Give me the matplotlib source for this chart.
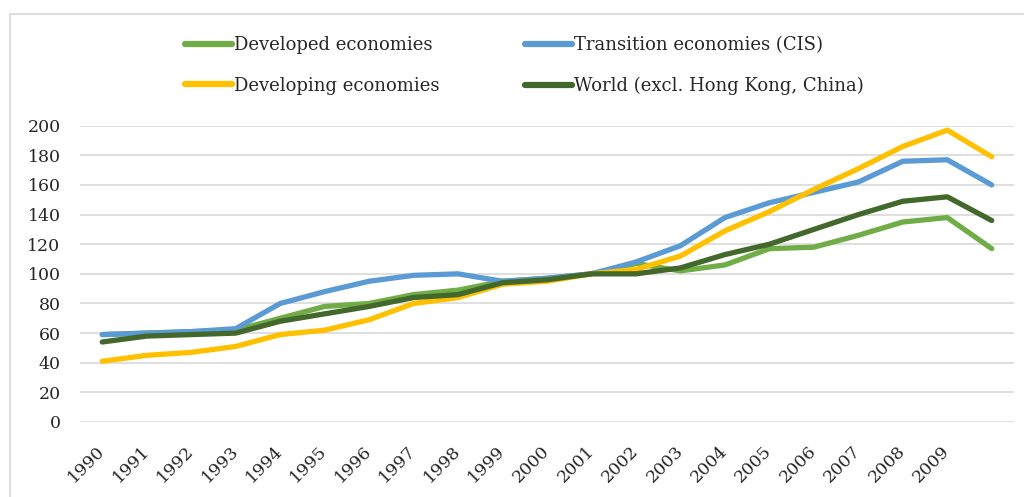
#!/usr/bin/env python3
"""Indice del commercio per gruppi di economie, 1990-2010."""
import matplotlib
matplotlib.use("Agg")
import matplotlib.pyplot as plt
from matplotlib.lines import Line2D

# --- Dati ---
anni = list(range(1990, 2011))
etichette = [str(a) for a in range(1990, 2010)]  # l'ultimo punto non ha etichetta

developed = [59, 60, 61, 62, 70, 78, 80, 86, 89, 95, 97, 100, 107, 102, 106, 117, 118, 126, 135, 138, 117]
transition = [59, 60, 61, 63, 80, 88, 95, 99, 100, 95, 97, 100, 108, 119, 138, 148, 155, 162, 176, 177, 160]
developing = [41, 45, 47, 51, 59, 62, 69, 80, 84, 93, 95, 100, 103, 112, 129, 142, 157, 171, 186, 197, 179]
world = [54, 58, 59, 60, 68, 73, 78, 84, 86, 94, 96, 100, 100, 104, 113, 120, 130, 140, 149, 152, 136]

serie = [
    ("Developed economies", developed, "#70AD47"),
    ("Transition economies (CIS)", transition, "#5B9BD5"),
    ("Developing economies", developing, "#FFC000"),
    ("World (excl. Hong Kong, China)", world, "#43682B"),
]

# --- Grafico ---
W, H = 1024, 497
fig = plt.figure(figsize=(W / 100, H / 100), dpi=100)
plt.rcParams["font.family"] = ["DejaVu Serif"]

# bordo del riquadro del grafico
fig.add_artist(Line2D([9.5 / W, 9.5 / W], [0, 1 - 14 / H], color="#D9D9D9", lw=1.2))
fig.add_artist(Line2D([9.5 / W, 1], [1 - 14 / H, 1 - 14 / H], color="#D9D9D9", lw=1.2))

ax = fig.add_axes([80 / W, 1 - 422 / H, 934 / W, (422 - 125.7) / H])
x = list(range(len(anni)))
handles = {}
for nome, valori, colore in serie:
    (ln,) = ax.plot(x, valori, color=colore, lw=3.8, solid_capstyle="round",
                    solid_joinstyle="round", label=nome)
    handles[nome] = ln

ax.set_xlim(-0.5, len(anni) - 0.5)
ax.set_ylim(0, 200)
ax.set_yticks(range(0, 201, 20))
ax.set_xticks(range(len(etichette)))
ax.set_xticklabels(etichette, rotation=45, ha="right", va="center", rotation_mode="anchor")
ax.tick_params(axis="x", length=0, pad=19, labelsize=12.5, colors="#262626")
ax.tick_params(axis="y", length=0, pad=14, labelsize=12.5, colors="#262626")
ax.grid(axis="y", color="#D9D9D9", lw=1.2)
ax.set_axisbelow(True)
for s in ax.spines.values():
    s.set_visible(False)

ordine = ["Developed economies", "Developing economies",
          "Transition economies (CIS)", "World (excl. Hong Kong, China)"]
leg = fig.legend([handles[n] for n in ordine], ordine, ncol=2, loc="center",
                 bbox_to_anchor=(0.512, 1 - 65.5 / H), frameon=False, fontsize=13,
                 handlelength=2.6, handletextpad=0.15, columnspacing=4.7,
                 labelspacing=1.25)
for t in leg.get_texts():
    t.set_color("#262626")
for l in leg.get_lines():
    l.set_linewidth(4.5)

fig.savefig("out.png", dpi=100)
